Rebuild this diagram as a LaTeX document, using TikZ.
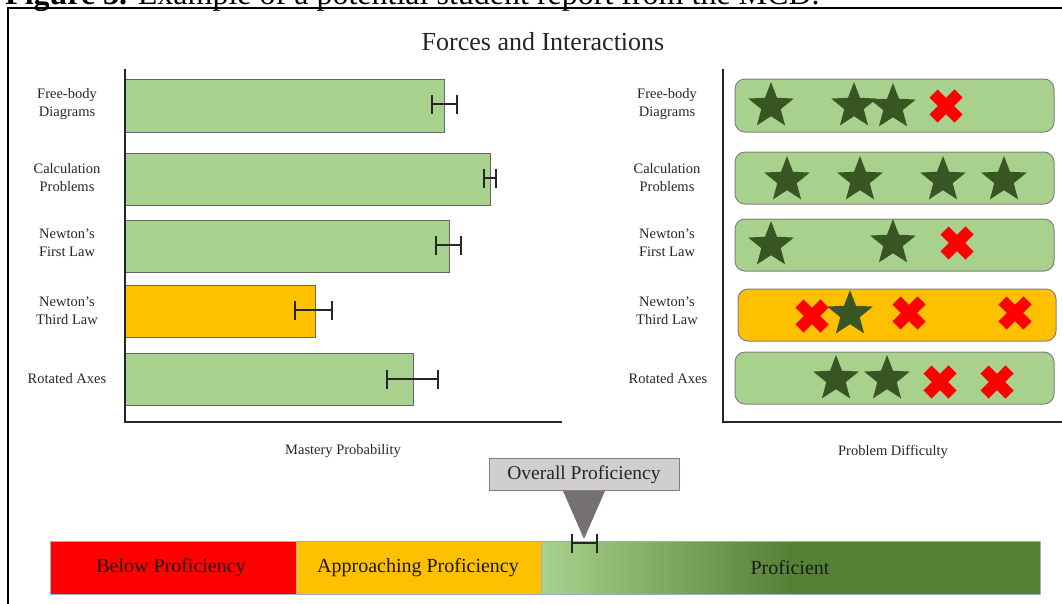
\documentclass[tikz,border=0pt]{standalone}
\usepackage{fontspec}
\setmainfont{Liberation Serif}
\usepackage{xcolor}
\usetikzlibrary{shapes.geometric,shapes.misc,arrows.meta}

\definecolor{bargreen}{HTML}{A9D18E}
\definecolor{barorange}{HTML}{FFC000}
\definecolor{stargreen}{HTML}{375623}
\definecolor{darkgreen}{HTML}{548235}
\definecolor{boxgray}{HTML}{D0CECE}
\definecolor{tipgray}{HTML}{767171}
\definecolor{edgegray}{HTML}{7F7F7F}
\definecolor{scaleedge}{HTML}{9DB0C8}

\tikzset{
  topic text/.style={font=\fontsize{14.5}{18}\selectfont, align=center, text=black!85},
  axis line/.style={line width=1.5pt, black!85},
  mastery bar/.style={draw=black!60, line width=1pt},
  err bar/.style={line width=2pt, black!85, {Bar[width=19pt]}-{Bar[width=19pt]}},
  row box/.style={draw=black!50, line width=1pt, rounded corners=10pt},
  good star/.style={star, star points=5, star point ratio=2.35, minimum size=48pt, inner sep=0pt, fill=stargreen},
  bad cross/.style={cross out, draw=red, line width=11.5pt, minimum size=25pt, inner sep=0pt, outer sep=0pt},
  level/.style={draw=scaleedge, line width=1pt},
  level text/.style={font=\fontsize{20}{24}\selectfont, text=black!90}
}

\begin{document}
\begin{tikzpicture}[x=1pt, y=-1pt]
            \useasboundingbox (0,0) rectangle (1062,603);
            \node [anchor=base west, inner sep=0pt, font=\fontsize{32}{36}\selectfont] (caption) at (5,4) {\textbf{Figure 3.} Example of a potential student report from the MCD.};
            \draw [line width=1.5pt] (8,640) -- (8,8) -- (1090,8);
            \node [font=\fontsize{26}{30}\selectfont, text=black!85] (title) at (543,42) {Forces and Interactions};
            \node [topic text] (fbdL) at (67,104) {Free-body\\Diagrams};
            \node [topic text] (calcL) at (67,178) {Calculation\\Problems};
            \node [topic text] (firstL) at (67,243) {Newton's\\First Law};
            \node [topic text] (thirdL) at (67,311) {Newton's\\Third Law};
            \node [topic text] (rotL) at (67,379) {Rotated Axes};
            \draw [mastery bar, fill=bargreen] (125,79) rectangle (444,132);
            \draw [mastery bar, fill=bargreen] (125,153) rectangle (490,205);
            \draw [mastery bar, fill=bargreen] (125,220) rectangle (449,272);
            \draw [mastery bar, fill=barorange] (125,285) rectangle (315,337);
            \draw [mastery bar, fill=bargreen] (125,353) rectangle (413,405);
            \draw [err bar] (431,104) -- (458,104);
            \draw [err bar] (483,178) -- (497,178);
            \draw [err bar] (435,245) -- (462,245);
            \draw [err bar] (294,310) -- (333,310);
            \draw [err bar] (386,379) -- (439,379);
            \draw [axis line] (125,69) -- (125,422) -- (562,422);
            \node [topic text] (mastery) at (343,451) {Mastery Probability};
            \node [topic text] (fbdR) at (667,104) {Free-body\\Diagrams};
            \node [topic text] (calcR) at (667,178) {Calculation\\Problems};
            \node [topic text] (firstR) at (667,243) {Newton's\\First Law};
            \node [topic text] (thirdR) at (667,311) {Newton's\\Third Law};
            \node [topic text] (rotR) at (668,379) {Rotated Axes};
            \draw [row box, fill=bargreen] (735,79) rectangle (1054,132);
            \draw [row box, fill=bargreen] (735,152) rectangle (1054,204);
            \draw [row box, fill=bargreen] (735,219) rectangle (1054,271);
            \draw [row box, fill=barorange] (738,289) rectangle (1056,341);
            \draw [row box, fill=bargreen] (735,352) rectangle (1054,404);
            \node [good star] (s11) at (771,106) {};
            \node [good star] (s12) at (854,106) {};
            \node [good star] (s13) at (893,107) {};
            \node [bad cross] (x11) at (946,106) {};
            \node [good star] (s21) at (787,180) {};
            \node [good star] (s22) at (860,180) {};
            \node [good star] (s23) at (943,180) {};
            \node [good star] (s24) at (1004,180) {};
            \node [good star] (s31) at (771,245) {};
            \node [good star] (s32) at (893,243) {};
            \node [bad cross] (x31) at (957,243) {};
            \node [bad cross] (x41) at (812,316) {};
            \node [good star] (s41) at (850,314) {};
            \node [bad cross] (x42) at (909,313) {};
            \node [bad cross] (x43) at (1015,313) {};
            \node [good star] (s51) at (836,379) {};
            \node [good star] (s52) at (887,379) {};
            \node [bad cross] (x51) at (940,382) {};
            \node [bad cross] (x52) at (997,382) {};
            \draw [axis line] (723,69) -- (723,422) -- (1070,422);
            \node [topic text] (difficulty) at (893,452) {Problem Difficulty};
            \draw [level, fill=red] (50,541) rectangle (296,594);
            \draw [level, fill=barorange] (296,541) rectangle (541,594);
            \shade [left color=bargreen, right color=darkgreen] (541,541) rectangle (790,594);
            \fill [darkgreen] (790,541) rectangle (1040,594);
            \draw [level] (541,541) rectangle (1040,594);
            \node [level text] (below) at (171,568) {Below Proficiency};
            \node [level text] (approach) at (418,568) {Approaching Proficiency};
            \node [level text] (proficient) at (790,568) {Proficient};
            \node [draw=edgegray, fill=boxgray, line width=1pt, minimum width=190pt, minimum height=32pt, font=\fontsize{19.5}{23}\selectfont, text=black!85] (overall) at (584,474.5) {Overall Proficiency};
            \coordinate (tip) at (584,539);
            \fill [tipgray] ([xshift=-21pt]overall.south) -- ([xshift=21pt]overall.south) -- (tip) -- cycle;
            \draw [err bar] (571,543) -- (598,543);
        \end{tikzpicture}
\end{document}
